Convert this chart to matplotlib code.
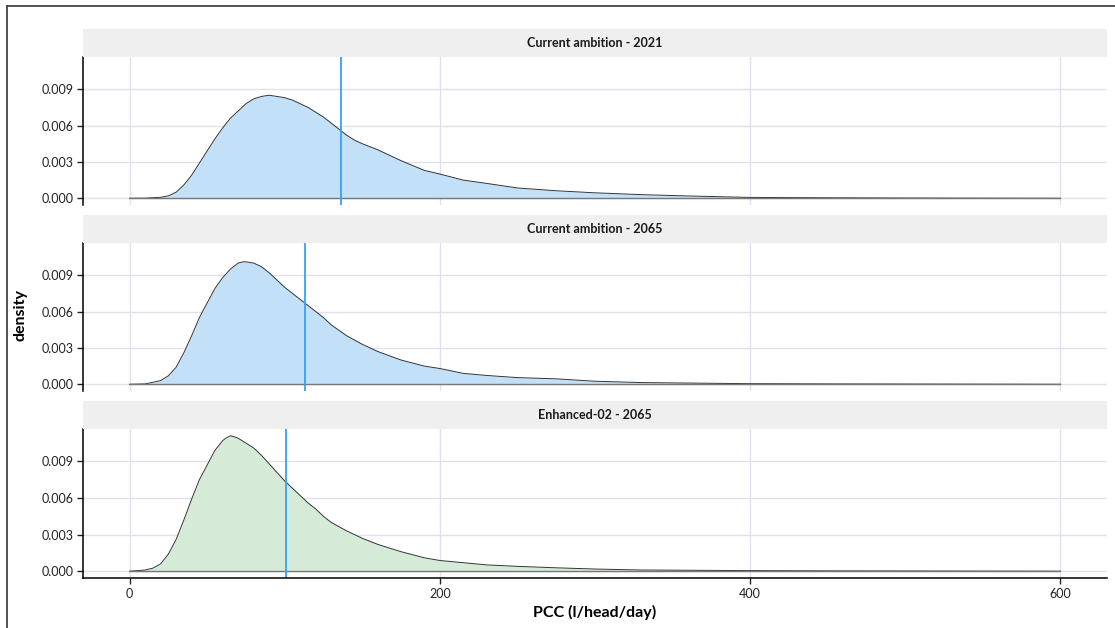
import matplotlib

matplotlib.use("Agg")
import matplotlib.pyplot as plt  # noqa: E402
from matplotlib.lines import Line2D  # noqa: E402
from matplotlib.patches import Rectangle  # noqa: E402

plt.rcParams["font.family"] = ["Lato", "DejaVu Sans"]

# density curves of per-capita consumption, one per scenario
panel_titles = ["Current ambition - 2021", "Current ambition - 2065", "Enhanced-02 - 2065"]

pcc_2021 = [0, 10, 20, 25, 30, 35, 40, 45, 50, 55, 60, 65, 70, 75, 80, 85, 90, 95, 100,
            105, 110, 115, 120, 125, 130, 135, 140, 145, 150, 160, 175, 190, 200, 215,
            230, 250, 275, 300, 330, 360, 400, 450, 500, 550, 600]
dens_2021 = [0, 0.00001, 0.00008, 0.0002, 0.0005, 0.0011, 0.0019, 0.0029, 0.0039, 0.0049,
             0.0058, 0.0066, 0.0072, 0.0078, 0.0082, 0.0084, 0.0085, 0.0084, 0.0083,
             0.0081, 0.0078, 0.0075, 0.0071, 0.0067, 0.0062, 0.0057, 0.0052, 0.0048,
             0.0045, 0.0040, 0.0031, 0.0023, 0.0020, 0.0015, 0.00123, 0.00085, 0.00062,
             0.00045, 0.0003, 0.00019, 0.00007, 0.00004, 0.00002, 0.00001, 0]

pcc_2065 = [0, 10, 20, 25, 30, 35, 40, 45, 50, 55, 60, 65, 70, 73, 75, 80, 85, 90, 95,
            100, 105, 110, 115, 120, 125, 130, 140, 150, 160, 175, 190, 200, 215, 230,
            250, 275, 300, 330, 360, 400, 450, 500, 550, 600]
dens_2065 = [0, 0.00003, 0.0003, 0.0007, 0.0014, 0.0026, 0.0040, 0.0055, 0.0067, 0.0079,
             0.0088, 0.0095, 0.0100, 0.0101, 0.0101, 0.0100, 0.0097, 0.0092, 0.0086,
             0.0080, 0.0075, 0.0070, 0.0065, 0.0060, 0.0055, 0.0049, 0.0040, 0.0033,
             0.0027, 0.0020, 0.0015, 0.0013, 0.0009, 0.00073, 0.00055, 0.00045, 0.00025,
             0.00014, 0.0001, 0.00005, 0.00003, 0.00002, 0.00001, 0]

pcc_enh = [0, 10, 15, 20, 25, 30, 35, 40, 45, 50, 55, 60, 62, 65, 68, 70, 75, 80, 85,
           90, 95, 100, 105, 110, 115, 120, 125, 130, 140, 150, 160, 175, 190, 200, 215,
           230, 250, 275, 300, 330, 360, 400, 450, 500, 550, 600]
dens_enh = [0, 0.0001, 0.00025, 0.0006, 0.0014, 0.0026, 0.0042, 0.0059, 0.0075, 0.0087,
            0.0099, 0.0107, 0.0109, 0.0111, 0.0110, 0.0109, 0.0105, 0.0101, 0.0095,
            0.0088, 0.0081, 0.0074, 0.0068, 0.0062, 0.0056, 0.0051, 0.0045, 0.0040,
            0.0033, 0.0027, 0.0022, 0.0016, 0.0011, 0.00088, 0.0007, 0.00052, 0.0004,
            0.00028, 0.00018, 0.0001, 0.00008, 0.00005, 0.00003, 0.00002, 0.00001, 0]

mean_pcc = [136, 113, 101]
fill_colors = ["#c2e0f7", "#c2e0f7", "#d5ebd8"]

x_ticks = [0, 200, 400, 600]
y_ticks = [0.000, 0.003, 0.006, 0.009]

series = [(pcc_2021, dens_2021), (pcc_2065, dens_2065), (pcc_enh, dens_enh)]

W, H = 1115, 628
fig = plt.figure(figsize=(W / 100, H / 100), dpi=100)

# panel geometry in pixels: (top, bottom)
panel_px = [(57, 205), (243, 391), (429, 578)]
left_px, right_px = 83, 1107
strip_h = 28

y_top = max(max(d) for _, d in series)
pad = y_top * 0.05
grid_col = "#e2e0ee"

for i, ((top, bot), (xs, ys)) in enumerate(zip(panel_px, series)):
    ax = fig.add_axes([left_px / W, 1 - bot / H, (right_px - left_px) / W, (bot - top) / H])
    ax.set_xlim(-30, 630)
    ax.set_ylim(-pad, y_top + pad)
    ax.set_xticks(x_ticks)
    ax.set_yticks(y_ticks)
    ax.grid(True, color=grid_col, lw=1.0)
    ax.set_axisbelow(True)
    for s in ("top", "right", "bottom"):
        ax.spines[s].set_visible(False)
    ax.spines["left"].set_linewidth(1.1)
    ax.set_yticklabels([f"{v:.3f}" for v in y_ticks])
    ax.tick_params(axis="y", length=4, width=1, labelsize=9, colors="#222222", pad=3)
    if i < 2:
        ax.tick_params(axis="x", length=0, labelbottom=False)
    else:
        ax.spines["bottom"].set_visible(True)
        ax.spines["bottom"].set_linewidth(1.1)
        ax.tick_params(axis="x", length=4, width=1, labelsize=9, colors="#222222", pad=3)
        ax.set_xlabel("PCC (l/head/day)", fontsize=11.5, fontweight="bold", labelpad=4)

    ax.fill_between(xs, 0, ys, color=fill_colors[i], lw=0)
    ax.plot(xs, ys, color="#333333", lw=0.7)
    ax.plot([xs[0], xs[-1]], [0, 0], color="#777777", lw=1.0)
    ax.axvline(mean_pcc[i], color="#35a3f0", lw=1.3)

    # facet strip above each panel
    fig.add_artist(Rectangle((left_px / W, 1 - top / H), (right_px - left_px) / W, strip_h / H,
                             transform=fig.transFigure, facecolor="#efefef", edgecolor="none"))
    fig.text((left_px + right_px) / 2 / W, 1 - (top - strip_h / 2) / H, panel_titles[i],
             ha="center", va="center", fontsize=9, fontweight="bold", color="#1a1a1a")

fig.text(20 / W, 1 - 315 / H, "density", rotation=90, ha="center", va="center",
         fontsize=11.5, fontweight="bold")

# outer frame on the left and top edges
fig.add_artist(Line2D([7 / W, 7 / W], [0, 1 - 6 / H], transform=fig.transFigure,
                      color="#444444", lw=1.3))
fig.add_artist(Line2D([7 / W, 1], [1 - 6 / H, 1 - 6 / H], transform=fig.transFigure,
                      color="#444444", lw=1.3))

fig.savefig("out.png", dpi=100)
